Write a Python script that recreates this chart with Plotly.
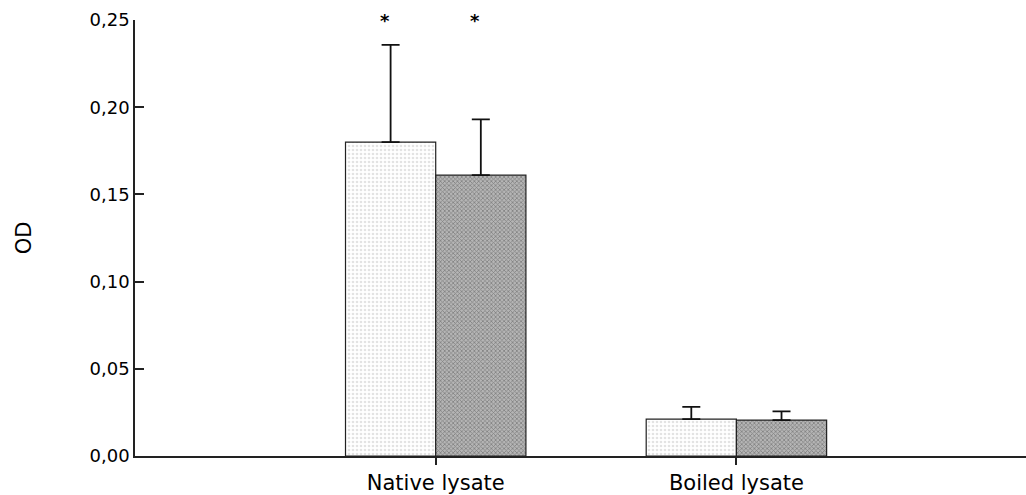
import plotly.graph_objects as go

categories = ["Native lysate", "Boiled lysate"]
cat_pos = [0, 1]
series1_values = [0.180, 0.0212]
series1_err = [0.0557, 0.0070]
series2_values = [0.161, 0.0206]
series2_err = [0.032, 0.0050]
y_ticks = [0.00, 0.05, 0.10, 0.15, 0.20, 0.25]
y_ticklabels = ["0,00", "0,05", "0,10", "0,15", "0,20", "0,25"]
star_labels = ["*", "*"]

font_family = "DejaVu Sans"
bar_w = 0.3

fig = go.Figure()
fig.add_trace(go.Bar(
    x=cat_pos, y=series1_values, width=bar_w, offset=-bar_w,
    marker=dict(color="white", line=dict(color="#222", width=1.2),
                pattern=dict(shape=".", fgcolor="#c8c8c8", bgcolor="white", size=4, solidity=0.35)),
    error_y=dict(type="data", array=series1_err, arrayminus=[0, 0], symmetric=False,
                 color="#111", thickness=1.8, width=9),
    showlegend=False,
))
fig.add_trace(go.Bar(
    x=cat_pos, y=series2_values, width=bar_w, offset=0,
    marker=dict(color="#9a9a9a", line=dict(color="#222", width=1.2),
                pattern=dict(shape="x", fgcolor="#4a4a4a", bgcolor="#b5b5b5", size=3, solidity=0.45)),
    error_y=dict(type="data", array=series2_err, arrayminus=[0, 0], symmetric=False,
                 color="#111", thickness=1.8, width=9),
    showlegend=False,
))

for xoff, lab in zip([-bar_w / 2, bar_w / 2], star_labels):
    fig.add_annotation(x=cat_pos[0] + xoff - 0.02, y=1.0, text="<b>" + lab + "</b>", showarrow=False,
                       font=dict(family=font_family, size=18, color="black"), xref="x", yref="paper",
                       yanchor="middle")

fig.update_layout(
    width=1026, height=495,
    margin=dict(l=135, r=0, t=20, b=39),
    paper_bgcolor="white", plot_bgcolor="white",
    barmode="overlay",
    font=dict(family=font_family, color="black"),
    xaxis=dict(range=[-1.0, 1.963], tickvals=cat_pos, ticktext=categories,
               showline=True, linecolor="#222", linewidth=1.5, ticks="outside", ticklen=7,
               tickcolor="#222", tickwidth=1.5,
               showgrid=False, zeroline=False,
               tickfont=dict(family=font_family, size=21, color="black")),
    yaxis=dict(range=[0, 0.25], tickvals=y_ticks, ticktext=y_ticklabels,
               showline=True, linecolor="#222", linewidth=1.5, ticks="inside", ticklen=9,
               tickcolor="#222", tickwidth=1.5,
               showgrid=False, zeroline=False,
               tickfont=dict(family=font_family, size=18, color="black"),
               title=dict(text="OD", font=dict(family=font_family, size=21, color="black"), standoff=52)),
)

fig.write_html("out.html")
